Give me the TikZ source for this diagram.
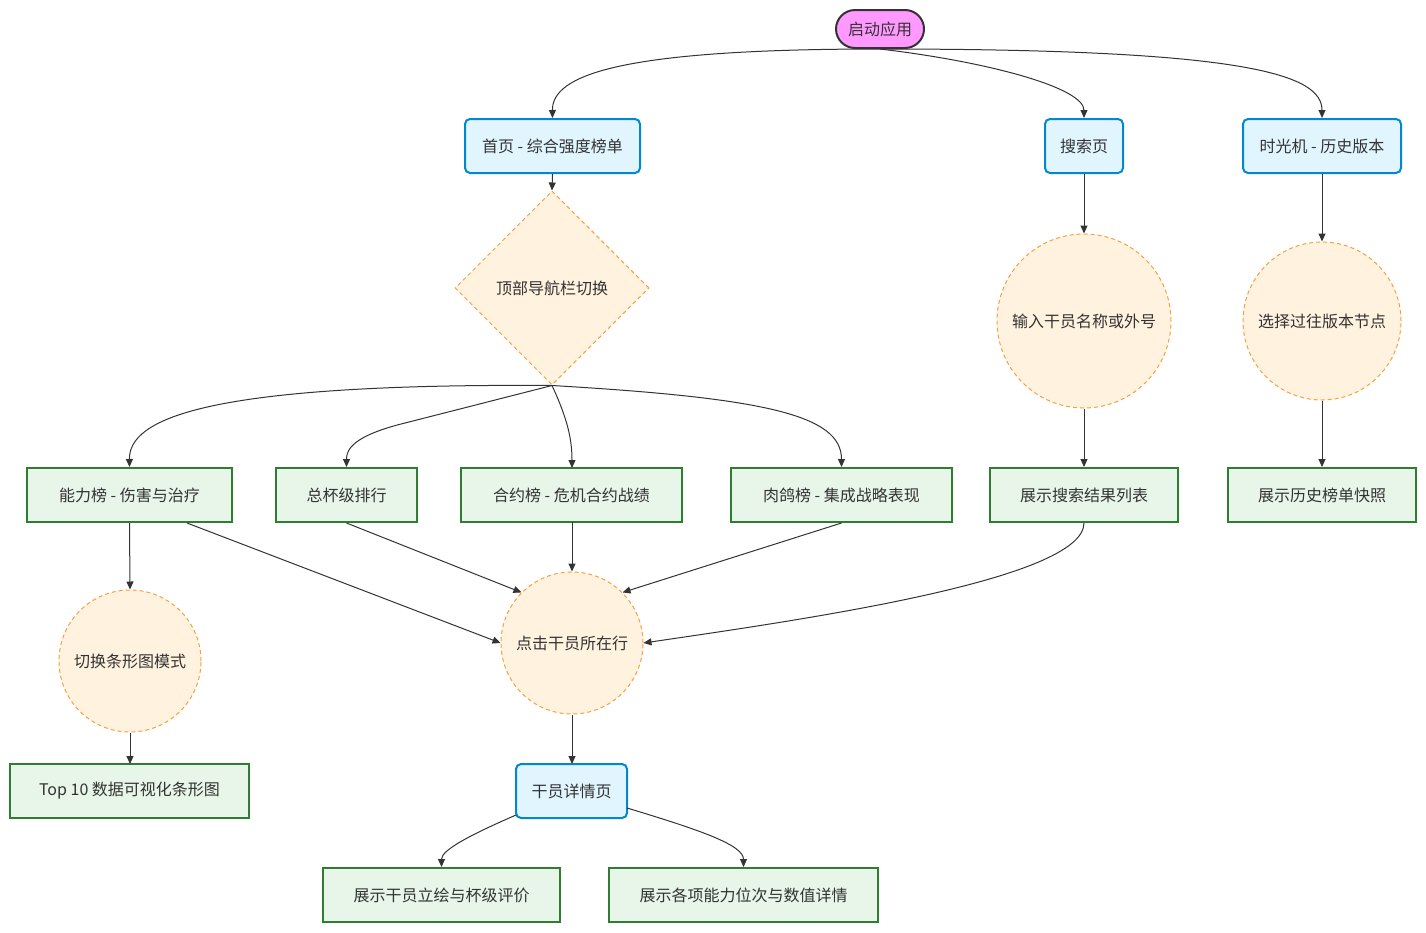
\documentclass[tikz,border=0pt]{standalone}
\usepackage{fontspec}
\setmainfont{Noto Sans CJK SC}
\usetikzlibrary{shapes.geometric,arrows.meta,calc}
\definecolor{txt}{HTML}{333333}
\definecolor{pinkf}{HTML}{FF99FF}
\definecolor{bluef}{HTML}{E1F5FE}
\definecolor{blues}{HTML}{0288D1}
\definecolor{greenf}{HTML}{E8F5E9}
\definecolor{greens}{HTML}{2E7D32}
\definecolor{orangef}{HTML}{FFF3E0}
\definecolor{oranges}{HTML}{F7A040}
\definecolor{edge}{HTML}{333333}
\tikzset{
  base/.style={font=\fontsize{16}{19}\selectfont, text=txt, inner sep=0pt},
  startbox/.style={base, draw=txt, line width=2pt, fill=pinkf, rounded corners=19pt, minimum width=88pt, minimum height=38pt},
  bluebox/.style={base, draw=blues, line width=2pt, fill=bluef, rounded corners=5pt, minimum height=54pt},
  greenbox/.style={base, draw=greens, line width=2pt, fill=greenf, minimum height=54pt},
  orangecirc/.style={base, circle, draw=oranges, line width=1pt, dash pattern=on 4pt off 3pt, fill=orangef},
  orangedia/.style={base, diamond, aspect=1, draw=oranges, line width=1pt, dash pattern=on 4pt off 3pt, fill=orangef, minimum width=194pt, minimum height=194pt},
  conn/.style={draw=edge, line width=1pt, -{Triangle[length=8pt,width=7pt]}},
}
\begin{document}
\begin{tikzpicture}[x=1pt,y=-1pt]
\useasboundingbox (0,0) rectangle (1426,932);
% nodes
\node[startbox] (start) at (880,29) {启动应用};
\node[bluebox, minimum width=175pt] (home) at (552.5,146) {首页\ -\ 综合强度榜单};
\node[bluebox, minimum width=78pt] (search) at (1084,146) {搜索页};
\node[bluebox, minimum width=158pt] (time) at (1322,146) {时光机\ -\ 历史版本};
\node[orangedia] (dia) at (552,288) {顶部导航栏切换};
\node[orangecirc, minimum size=174pt] (input) at (1084,321) {输入干员名称或外号};
\node[orangecirc, minimum size=158pt] (pick) at (1322,321) {选择过往版本节点};
\node[greenbox, minimum width=205pt] (nl) at (129.5,495) {能力榜\ -\ 伤害与治疗};
\node[greenbox, minimum width=141pt] (zb) at (346.5,495) {总杯级排行};
\node[greenbox, minimum width=221pt] (hy) at (571.5,495) {合约榜\ -\ 危机合约战绩};
\node[greenbox, minimum width=221pt] (rg) at (841.5,495) {肉鸽榜\ -\ 集成战略表现};
\node[greenbox, minimum width=188pt] (res) at (1084,495) {展示搜索结果列表};
\node[greenbox, minimum width=188pt] (snap) at (1322,495) {展示历史榜单快照};
\node[orangecirc, minimum size=142pt] (bar) at (130,661) {切换条形图模式};
\node[orangecirc, minimum size=142pt] (click) at (572,643) {点击干员所在行};
\node[greenbox, minimum width=239pt] (top) at (129.5,791) {Top 10 数据可视化条形图};
\node[bluebox, minimum width=111pt] (det) at (571.5,791) {干员详情页};
\node[greenbox, minimum width=237pt] (art) at (441.5,895) {展示干员立绘与杯级评价};
\node[greenbox, minimum width=269pt] (stat) at (743.5,895) {展示各项能力位次与数值详情};
% connectors
\draw[conn] (start.south) .. controls (620,49) and (552,75) .. (home.north);
\draw[conn] (start.south) .. controls (990,62) and (1084,88) .. (search.north);
\draw[conn] (start.south) .. controls (1250,49) and (1322,75) .. (time.north);
\draw[conn] (home.south) -- (dia.north);
\draw[conn] (dia.south) .. controls (200,383) and (129,420) .. (nl.north);
\draw[conn] (dia.south) -- (405,423) .. controls (352,436) and (346.5,450) .. (zb.north);
\draw[conn] (dia.south) .. controls (568,420) and (572,440) .. (572,468);
\draw[conn] (dia.south) .. controls (765,398) and (841.5,415) .. (rg.north);
\draw[conn] (search.south) -- (input.north);
\draw[conn] (input.south) -- (res.north);
\draw[conn] (time.south) -- (pick.north);
\draw[conn] (pick.south) -- (snap.north);
\draw[conn] (nl.south) -- (bar.north);
\draw[conn] ($(nl.south)+(57.5,0)$) -- (click.west);
\draw[conn] (zb.south) -- (click.135);
\draw[conn] (572,522) -- (click.north);
\draw[conn] (rg.south) -- (click.45);
\draw[conn] (res.south) .. controls (1084,580) and (800,620) .. (click.east);
\draw[conn] (bar.south) -- (130,764);
\draw[conn] (click.south) -- (572,764);
\draw[conn] (516,815) .. controls (470,835) and (441.5,850) .. (art.north);
\draw[conn] (627,808) .. controls (700,830) and (743.5,845) .. (stat.north);
\end{tikzpicture}
\end{document}
